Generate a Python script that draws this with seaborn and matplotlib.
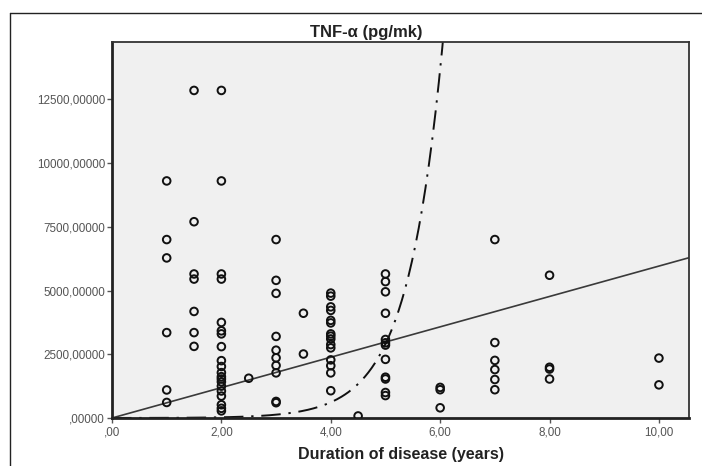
import numpy as np
import pandas as pd
import seaborn as sns
import matplotlib.pyplot as plt
from matplotlib.lines import Line2D
from matplotlib.ticker import FixedLocator, FuncFormatter

# duration of disease (years) -> TNF-alpha values
dur_1 = [9300, 7000, 6280, 3350, 1100, 610]
dur_15 = [12850, 7700, 5650, 5450, 4180, 3350, 2810]
dur_2 = [12850, 9300, 5650, 5450, 3750, 3420, 3300, 2800, 2250, 2020, 1780,
         1620, 1530, 1420, 1250, 1060, 860, 520, 380, 280]
dur_25 = [1560]
dur_3 = [7000, 5400, 4890, 3200, 2660, 2360, 2060, 1770, 650, 600]
dur_35 = [4110, 2510]
dur_4 = [4900, 4780, 4360, 4220, 3830, 3730, 3300, 3210, 3100, 2880, 2750,
         2280, 2050, 1770, 1070]
dur_45 = [80]
dur_5 = [5650, 5350, 4950, 4110, 3080, 2950, 2860, 2300, 1600, 1530, 1000, 880]
dur_6 = [1200, 1110, 400]
dur_7 = [7000, 2960, 2260, 1900, 1510, 1110]
dur_8 = [5600, 1990, 1920, 1530]
dur_10 = [2350, 1300]

groups = {1: dur_1, 1.5: dur_15, 2: dur_2, 2.5: dur_25, 3: dur_3, 3.5: dur_35,
          4: dur_4, 4.5: dur_45, 5: dur_5, 6: dur_6, 7: dur_7, 8: dur_8, 10: dur_10}

# fit lines shown in the chart (linear and exponential)
lin_intercept, lin_slope = 0.0, 596.0
exp_a, exp_b = 1.25, 1.55

x_ticks = [0, 2, 4, 6, 8, 10]
x_labels = [",00", "2,00", "4,00", "6,00", "8,00", "10,00"]
y_ticks = [0, 2500, 5000, 7500, 10000, 12500]
y_labels = [",00000", "2500,00000", "5000,00000", "7500,00000", "10000,00000", "12500,00000"]

rows = []
for d, vals in groups.items():
    for v in vals:
        rows.append({"duration": d, "tnf": v})
df = pd.DataFrame(rows)

x_lin = np.linspace(0, 10.6, 50)
df_lin = pd.DataFrame({"duration": x_lin, "tnf": lin_intercept + lin_slope * x_lin})
x_exp = np.linspace(0, 6.12, 300)
df_exp = pd.DataFrame({"duration": x_exp, "tnf": exp_a * np.exp(exp_b * x_exp)})

sns.set_theme(style="white")
plt.rcParams['font.family'] = ['Liberation Sans', 'DejaVu Sans']

fig = plt.figure(figsize=(7.02, 4.66), dpi=100)
ax = fig.add_axes([112 / 702, 48 / 466, 577 / 702, 376 / 466])
ax.set_facecolor("#f0f0f0")

sns.lineplot(data=df_lin, x="duration", y="tnf", color="#3a3a3a", linewidth=1.2, ax=ax)
sns.lineplot(data=df_exp, x="duration", y="tnf", color="#111111", linewidth=1.4,
             linestyle=(0, (10, 4, 1.2, 4)), ax=ax)
sns.scatterplot(data=df, x="duration", y="tnf", marker="o", s=30,
                facecolor="none", edgecolor="#111111", linewidth=1.4, ax=ax, zorder=3)

ax.set_xlim(0, 10.55)
ax.set_ylim(0, 14750)
ax.xaxis.set_major_locator(FixedLocator(x_ticks))
ax.xaxis.set_major_formatter(FuncFormatter(lambda v, p: x_labels[x_ticks.index(round(v))] if round(v) in x_ticks else ""))
ax.yaxis.set_major_locator(FixedLocator(y_ticks))
ax.yaxis.set_major_formatter(FuncFormatter(lambda v, p: y_labels[y_ticks.index(round(v))] if round(v) in y_ticks else ""))
ax.tick_params(axis="both", which="major", direction="out", length=3.5, width=1,
               color="#555555", labelcolor="#555555", labelsize=8.4, pad=1.5)
ax.tick_params(axis="x", bottom=True, pad=2.5)
ax.tick_params(axis="y", left=True)

for side in ["top", "right"]:
    ax.spines[side].set_linewidth(1.3)
    ax.spines[side].set_color("#333333")
for side in ["left", "bottom"]:
    ax.spines[side].set_linewidth(2)
    ax.spines[side].set_color("#222222")

ax.set_xlabel("Duration of disease (years)", fontsize=11.5, fontweight="bold", color="#222222", labelpad=6)
ax.set_ylabel("")
fig.text(366 / 702, 1 - 33 / 466, "TNF-α (pg/mk)", ha="center", va="center",
         fontsize=12, fontweight="bold", color="#222222")

# outer frame of the exported chart
fig.add_artist(Line2D([10 / 702, 1], [1 - 13 / 466, 1 - 13 / 466], transform=fig.transFigure, color="#222222", linewidth=1))
fig.add_artist(Line2D([10 / 702, 10 / 702], [0, 1 - 13 / 466], transform=fig.transFigure, color="#222222", linewidth=1))

plt.savefig("out.png", dpi=100)
